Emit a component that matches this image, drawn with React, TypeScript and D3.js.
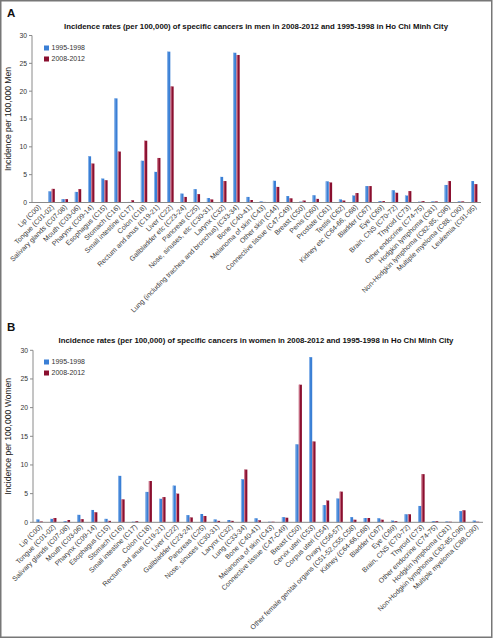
import React from "react";
import * as d3 from "d3";

const menCategories = [
  "Lip (C00)", "Tongue (C01-02)", "Salivary glands (C07-08)", "Mouth (C03-06)", "Pharynx (C09-14)",
  "Esophagus (C15)", "Stomach (C16)", "Small intestine (C17)", "Colon (C18)", "Rectum and anus (C19-21)",
  "Liver (C22)", "Gallbladder etc (C23-24)", "Pancreas (C25)", "Nose, sinuses, etc (C30-31)", "Larynx (C32)",
  "Lung (including trachea and bronchus) (C33-34)", "Bone (C40-41)", "Melanoma of skin (C43)", "Other skin (C44)",
  "Connective tissue (C47-C49)", "Breast (C50)", "Penis (C60)", "Prostate (C61)", "Testis (C62)",
  "Kidney etc (C64-66, C68)", "Bladder (C67)", "Eye (C69)", "Brain, CNS (C70-72)", "Thyroid (C73)",
  "Other endocrine (C74-75)", "Hodgkin lymphoma (C81)", "Non-Hodgkin lymphoma (C82-85, C96)",
  "Multiple myeloma (C88, C90)", "Leukemia (C91-95)",
];
const men1995 = [0.05, 2.0, 0.6, 1.9, 8.3, 4.3, 18.7, 0.1, 7.5, 5.5, 27.1, 1.6, 2.4, 0.8, 4.6, 26.9, 1.0, 0.2, 3.9, 1.15, 0.15, 1.3, 3.8, 0.55, 1.25, 2.95, 0.25, 2.2, 1.25, 0.15, 0.2, 3.15, 0.2, 3.85];
const men2008 = [0.05, 2.45, 0.6, 2.4, 7.0, 4.0, 9.15, 0.4, 11.1, 8.0, 20.85, 1.0, 1.5, 0.55, 3.85, 26.5, 0.45, 0.1, 2.8, 0.75, 0.35, 0.65, 3.6, 0.35, 1.7, 2.95, 0.25, 1.75, 2.05, 0.25, 0.2, 3.85, 0.2, 3.3];

const womenCategories = [
  "Lip (C00)", "Tongue (C01-02)", "Salivary glands (C07-08)", "Mouth (C03-06)", "Pharynx (C09-14)",
  "Esophagus (C15)", "Stomach (C16)", "Small intestine (C17)", "Colon (C18)", "Rectum and anus (C19-21)",
  "Liver (C22)", "Gallbladder (C23-24)", "Pancreas (C25)", "Nose, sinuses (C30-31)", "Larynx (C32)",
  "Lung (C33-34)", "Bone (C40-41)", "Melanoma of skin (C43)", "Connective tissue (C47-C49)", "Breast (C50)",
  "Cervix uteri (C53)", "Corpus uteri (C54)", "Ovary (C56-57)", "Other female genital organs (C51-52,C55,C58)",
  "Kidney (C64-66,C68)", "Bladder (C67)", "Eye (C69)", "Brain, CNS (C70-72)", "Thyroid (C73)",
  "Other endocrine (C74-75)", "Hodgkin lymphoma (C81)", "Non-Hodgkin lymphoma (C82-85,C96)",
  "Multiple myeloma (C88,C90)",
];
const women1995 = [0.5, 0.6, 0.2, 1.3, 2.15, 0.6, 8.1, 0.1, 5.3, 4.1, 6.4, 1.25, 1.45, 0.5, 0.4, 7.5, 0.7, 0.1, 0.9, 13.6, 28.8, 3.0, 4.15, 0.9, 0.75, 0.7, 0.3, 1.4, 2.85, 0.2, 0.15, 1.95, 0.3];
const women2008 = [0.15, 0.75, 0.4, 0.55, 1.75, 0.25, 4.0, 0.2, 7.2, 4.4, 5.0, 0.85, 1.1, 0.25, 0.25, 9.2, 0.35, 0.1, 0.8, 24.0, 14.1, 3.8, 5.35, 0.45, 0.75, 0.45, 0.2, 1.4, 8.4, 0.2, 0.1, 2.1, 0.1];

const seriesNames = ["1995-1998", "2008-2012"];
const yTicks = [0, 5, 10, 15, 20, 25, 30];

const BLUE = "#3a7fd5";
const BLUE_L = "#8fb9ec";
const RED = "#8a0f2f";
const RED_L = "#d9889c";
const FONT = "'Liberation Sans', Arial, Helvetica, sans-serif";

type PanelProps = {
  letter: string;
  title: string;
  yLabel: string;
  cats: string[];
  a: number[];
  b: number[];
  x0: number;
  x1: number;
  yTop: number;
  yBot: number;
  letterY: number;
  titleY: number;
  legendY: number;
};

function Panel(p: PanelProps) {
  const x = d3.scaleBand<string>().domain(p.cats).range([p.x0, p.x1]).paddingInner(0).paddingOuter(0);
  const y = d3.scaleLinear().domain([0, 30]).range([p.yBot, p.yTop]);
  const sub = d3.scaleBand<string>().domain(seriesNames).range([-3.4, 3.0]).paddingInner(0.08);
  const bw = sub.bandwidth();
  const cx = (c: string) => (x(c) as number) + x.bandwidth() / 2;
  return (
    <g>
      <text x={7} y={p.letterY} fontFamily={FONT} fontWeight="bold" fontSize={11.5} fill="#111">{p.letter}</text>
      <text x={256} y={p.titleY} textAnchor="middle" fontFamily={FONT} fontWeight="bold" fontSize={7.8} fill="#111">{p.title}</text>
      <text transform={`translate(11,${(p.yTop + p.yBot) / 2}) rotate(-90)`} textAnchor="middle" fontFamily={FONT} fontSize={8.6} fill="#222">{p.yLabel}</text>
      {/* y axis */}
      <line x1={p.x0} x2={p.x0} y1={p.yTop} y2={p.yBot} stroke="#8a8a8a" strokeWidth={1} />
      {yTicks.map((t) => (
        <g key={t}>
          <line x1={p.x0 - 3} x2={p.x0} y1={y(t)} y2={y(t)} stroke="#8a8a8a" strokeWidth={1} />
          <text x={p.x0 - 5} y={y(t) + 2.4} textAnchor="end" fontFamily={FONT} fontSize={6.8} fill="#333">{t}</text>
        </g>
      ))}
      {/* bars */}
      {p.cats.map((c, i) => {
        const vals = [p.a[i], p.b[i]];
        return (
          <g key={c}>
            {vals.map((v, j) => {
              const bx = cx(c) + (sub(seriesNames[j]) as number);
              const top = y(v);
              return (
                <g key={j}>
                  <rect x={bx} y={top} width={bw} height={p.yBot - top} fill={j === 0 ? BLUE : RED} />
                  <rect x={bx} y={top} width={Math.min(0.9, bw)} height={p.yBot - top} fill={j === 0 ? BLUE_L : RED_L} />
                </g>
              );
            })}
          </g>
        );
      })}
      {/* baseline */}
      <line x1={p.x0} x2={p.x1} y1={p.yBot} y2={p.yBot} stroke="#8a8a8a" strokeWidth={1} />
      {/* x labels */}
      {p.cats.map((c) => (
        <text key={c} transform={`translate(${cx(c) + 2.5},${p.yBot + 5}) rotate(-45)`} textAnchor="end" fontFamily={FONT} fontSize={7} fill="#3a3a3a">{c}</text>
      ))}
      {/* legend */}
      {seriesNames.map((s, j) => (
        <g key={s}>
          <rect x={44} y={p.legendY + j * 11} width={5} height={5} fill={j === 0 ? BLUE : RED} />
          <text x={51.5} y={p.legendY + j * 11 + 4.8} fontFamily={FONT} fontSize={7} fill="#333">{s}</text>
        </g>
      ))}
    </g>
  );
}

export default function App() {
  return (
    <div style={{ position: "absolute", left: 0, top: 0 }}>
      <svg width={493} height={639} viewBox="0 0 493 639" style={{ display: "block", background: "#fff" }}>
        <rect x={0} y={0} width={493} height={639} fill="#fff" />
        <Panel
          letter="A"
          title="Incidence rates (per 100,000) of specific cancers in men in 2008-2012 and 1995-1998 in Ho Chi Minh City"
          yLabel="Incidence per 100,000 Men"
          cats={menCategories}
          a={men1995}
          b={men2008}
          x0={32}
          x1={481}
          yTop={35.5}
          yBot={202.5}
          letterY={17}
          titleY={29}
          legendY={45.5}
        />
        <Panel
          letter="B"
          title="Incidence rates (per 100,000) of specific cancers in women in 2008-2012 and 1995-1998 in Ho Chi Minh City"
          yLabel="Incidence per 100,000 Women"
          cats={womenCategories}
          a={women1995}
          b={women2008}
          x0={33}
          x1={483}
          yTop={350.3}
          yBot={522.3}
          letterY={331}
          titleY={343.3}
          legendY={359.5}
        />
        <rect x={0.75} y={0.75} width={491} height={636.5} fill="none" stroke="#777" strokeWidth={1.5} />
      </svg>
    </div>
  );
}
